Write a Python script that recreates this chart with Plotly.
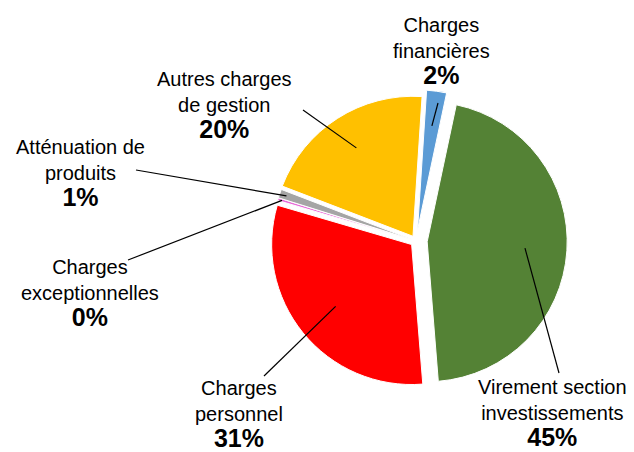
import math
import plotly.graph_objects as go

# ---- data ----
labels = ["Virement section investissements", "Charges personnel", "Charges exceptionnelles",
          "Atténuation de produits", "Autres charges de gestion", "Charges financières"]
label_lines = [["Virement section", "investissements"], ["Charges", "personnel"],
               ["Charges", "exceptionnelles"], ["Atténuation de", "produits"],
               ["Autres charges", "de gestion"], ["Charges", "financières"]]
values = [45.4, 30.8, 0.3, 1.0, 20.2, 2.3]
pct_labels = ["45%", "31%", "0%", "1%", "20%", "2%"]
colors = ["#548235", "#FF0000", "#E86AD8", "#A5A5A5", "#FFC000", "#5B9BD5"]
pulls = [0.08, 0.04, 0.03, 0.03, 0.04, 0.08]

# ---- layout geometry (pixels) ----
W, H = 634, 452
CX, CY, R = 408, 233, 140
ROT = 12
maxpull = max(pulls)
half = R * (1 + maxpull)
# label text centres (middle line) and leader-line anchors near the text
text_pos = [(544, 404), (231, 405), (82, 284), (72, 164), (216, 96), (433, 42)]
anchors = [(551, 365), (256, 368), (120, 252), (128, 162), (295, 102), (430, 95)]
head_frac = [0.7, 0.7, 0.97, 0.95, 0.75, 0.75]

fig = go.Figure(go.Pie(
    labels=labels, values=values, sort=False, direction="clockwise", rotation=ROT,
    marker=dict(colors=colors, line=dict(color="white", width=1)),
    pull=pulls, textinfo="none", hoverinfo="label+percent",
    domain=dict(x=[(CX - half) / W, (CX + half) / W],
                y=[1 - (CY + half) / H, 1 - (CY - half) / H]),
))

total = sum(values)
cum = 0
annotations, shapes = [], []
for i, v in enumerate(values):
    mid = math.radians(ROT + (cum + v / 2) / total * 360)
    cum += v
    rr = (head_frac[i] + pulls[i]) * R
    hx, hy = CX + rr * math.sin(mid), CY - rr * math.cos(mid)
    ax, ay = anchors[i]
    shapes.append(dict(type="line", xref="paper", yref="paper",
                       x0=ax / W, y0=1 - ay / H, x1=hx / W, y1=1 - hy / H,
                       line=dict(color="black", width=1.2)))
    tx, ty = text_pos[i]
    txt = "<br>".join(label_lines[i]) + "<br><b><span style='font-size:25px'>" + pct_labels[i] + "</span></b>"
    annotations.append(dict(x=tx / W, y=1 - (ty - 38) / H, xref="paper", yref="paper",
                            xanchor="center", yanchor="top", showarrow=False, text=txt,
                            align="center", font=dict(size=20, color="black",
                                                      family="Arial, Liberation Sans, sans-serif")))

fig.update_layout(width=W, height=H, margin=dict(l=0, r=0, t=0, b=0),
                  paper_bgcolor="white", plot_bgcolor="white", showlegend=False,
                  annotations=annotations, shapes=shapes)
fig.write_html("out.html")
